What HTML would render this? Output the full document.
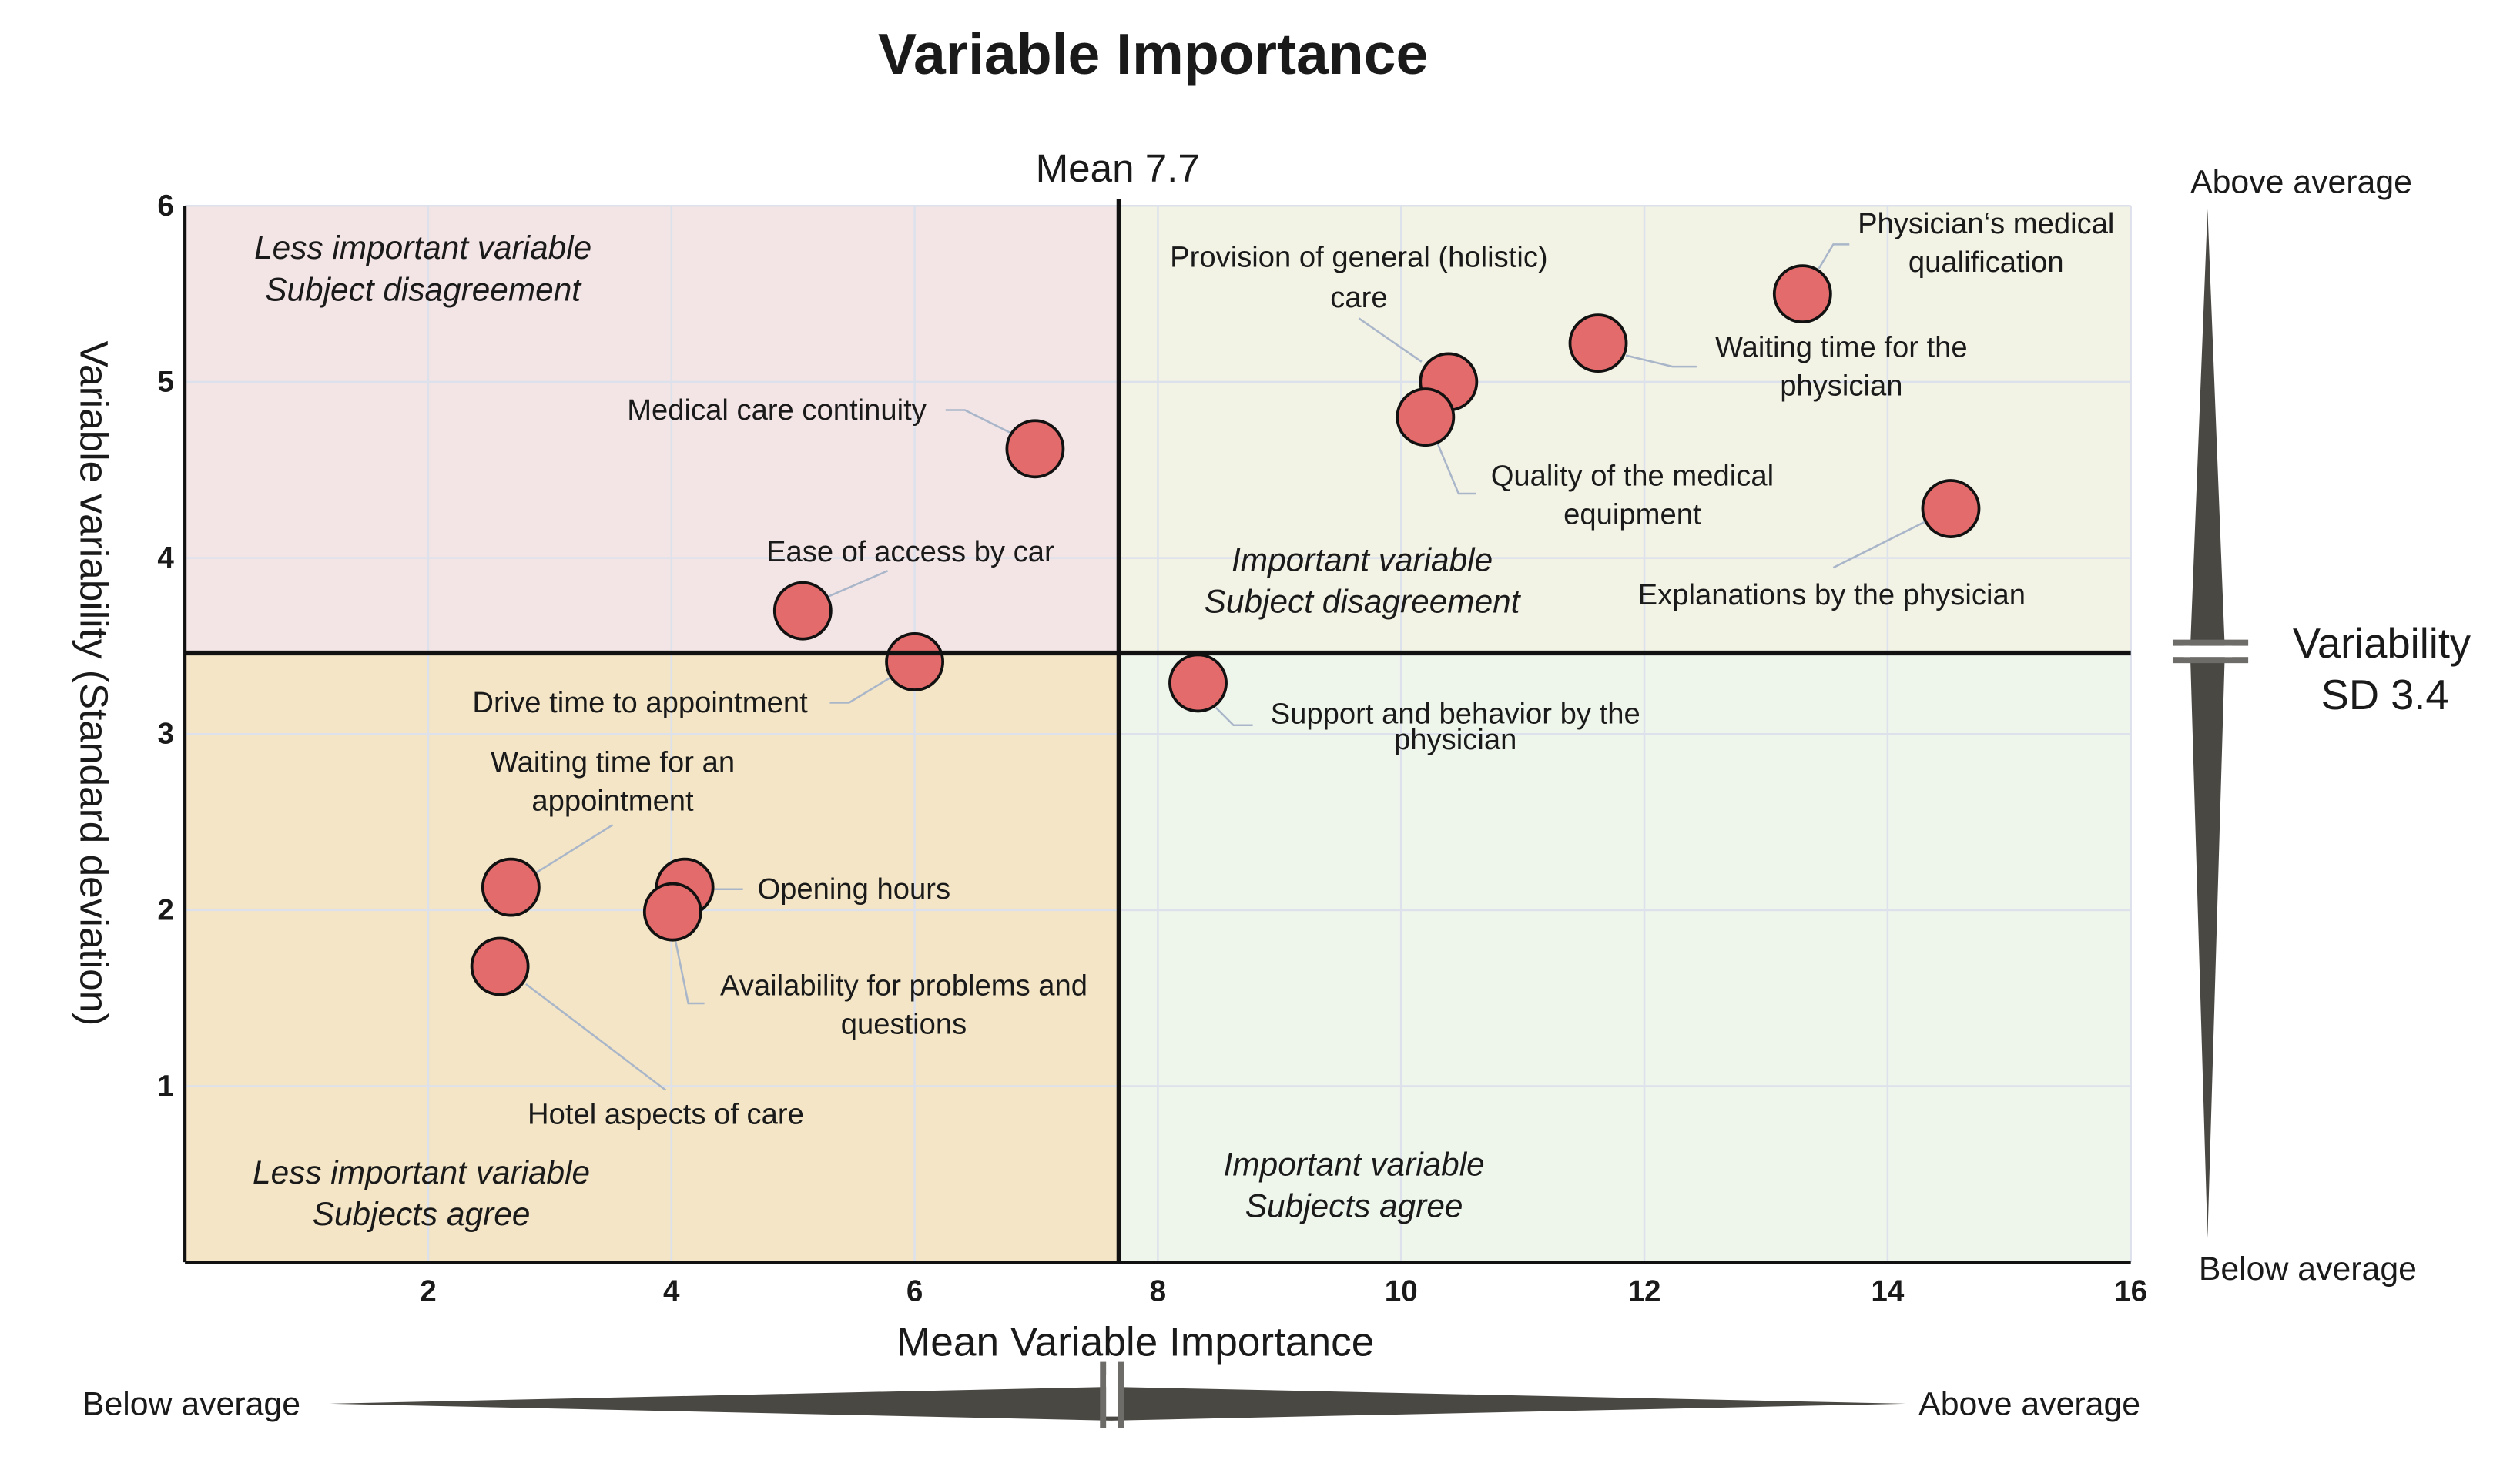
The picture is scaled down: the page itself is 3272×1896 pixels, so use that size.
<!DOCTYPE html>
<html><head><meta charset="utf-8"><style>
html,body{margin:0;padding:0;background:#fff}
svg{display:block}
text{font-family:"Liberation Sans",sans-serif;fill:#1a1a1a}
.lbl{font-size:18.3px;text-anchor:middle}
.q{font-size:20.3px;font-style:italic;text-anchor:middle}
.tk{font-size:18.5px;font-weight:bold;text-anchor:middle}
.ld{stroke:#a9b6c9;stroke-width:1.2;fill:none}
</style></head><body>
<svg id="chart" width="3272" height="1896" viewBox="0 0 1567 908" xmlns="http://www.w3.org/2000/svg">
<g id="bg"></g>
<g id="grid"></g>
<text x="717" y="46" style="font-size:36px;font-weight:bold;text-anchor:middle">Variable Importance</text>
<text x="695" y="113" style="font-size:24.5px;text-anchor:middle">Mean 7.7</text>
<g id="quadtext">
<text class="q" x="263" y="161">Less important variable</text>
<text class="q" x="263" y="187">Subject disagreement</text>
<text class="q" x="847" y="355">Important variable</text>
<text class="q" x="847" y="381">Subject disagreement</text>
<text class="q" x="262" y="736">Less important variable</text>
<text class="q" x="262" y="762">Subjects agree</text>
<text class="q" x="842" y="731">Important variable</text>
<text class="q" x="842" y="757">Subjects agree</text>
</g>
<g id="leaders">
<polyline class="ld" points="588,255 600,255 630,270"/>
<polyline class="ld" points="552,355 515,371"/>
<polyline class="ld" points="516,437 528,437 556,420"/>
<polyline class="ld" points="381,513 333,543"/>
<polyline class="ld" points="443,553 462,553"/>
<polyline class="ld" points="420,585 428,624 438,624"/>
<polyline class="ld" points="327,612 414,678"/>
<polyline class="ld" points="756,440 767,451 779,451"/>
<polyline class="ld" points="845,198 884,225"/>
<polyline class="ld" points="894,276 907,307 918,307"/>
<polyline class="ld" points="1011,221 1040,228 1055,228"/>
<polyline class="ld" points="1131,167 1140,152 1150,152"/>
<polyline class="ld" points="1140,353 1200,323"/>
</g>
<g id="points"></g>
<g id="labels">
<text class="lbl" x="483" y="261">Medical care continuity</text>
<text class="lbl" x="566" y="349">Ease of access by car</text>
<text class="lbl" x="398" y="443">Drive time to appointment</text>
<text class="lbl" x="381" y="480">Waiting time for an</text>
<text class="lbl" x="381" y="504">appointment</text>
<text class="lbl" x="531" y="559">Opening hours</text>
<text class="lbl" x="562" y="619">Availability for problems and</text>
<text class="lbl" x="562" y="643">questions</text>
<text class="lbl" x="414" y="699">Hotel aspects of care</text>
<text class="lbl" x="905" y="450">Support and behavior by the</text>
<text class="lbl" x="905" y="466">physician</text>
<text class="lbl" x="845" y="166">Provision of general (holistic)</text>
<text class="lbl" x="845" y="191">care</text>
<text class="lbl" x="1015" y="302">Quality of the medical</text>
<text class="lbl" x="1015" y="326">equipment</text>
<text class="lbl" x="1145" y="222">Waiting time for the</text>
<text class="lbl" x="1145" y="246">physician</text>
<text class="lbl" x="1235" y="145">Physician‘s medical</text>
<text class="lbl" x="1235" y="169">qualification</text>
<text class="lbl" x="1139" y="376">Explanations by the physician</text>
</g>
<g id="axes"></g>
<text x="706" y="843" style="font-size:25.5px;text-anchor:middle">Mean Variable Importance</text>
<text transform="translate(50,425) rotate(90)" style="font-size:24.6px;text-anchor:middle">Variable variability (Standard deviation)</text>
<g>
<polygon points="1372.7,130 1383.5,405 1372.7,770 1361.9,405" fill="#4a4843"/>
<rect x="1351" y="397.8" width="47" height="3.8" fill="#6e6c68"/>
<rect x="1351" y="408.6" width="47" height="3.8" fill="#6e6c68"/>
<rect x="1358" y="401.6" width="30" height="7" fill="#fff"/>
</g>
<text x="1431" y="120" style="font-size:20.5px;text-anchor:middle">Above average</text>
<text x="1435" y="796" style="font-size:20.5px;text-anchor:middle">Below average</text>
<text x="1481" y="409" style="font-size:26px;text-anchor:middle">Variability</text>
<text x="1483" y="441" style="font-size:26px;text-anchor:middle">SD 3.4</text>
<g>
<polygon points="205,873 691,862.5 1185,873 691,883.5" fill="#4a4843"/>
<rect x="684" y="847" width="3.8" height="41" fill="#6e6c68"/>
<rect x="695" y="847" width="3.8" height="41" fill="#6e6c68"/>
<rect x="687.8" y="855" width="7.2" height="26" fill="#fff"/>
</g>
<text x="119" y="880" style="font-size:20.5px;text-anchor:middle">Below average</text>
<text x="1262" y="880" style="font-size:20.5px;text-anchor:middle">Above average</text>
</svg>
<script>
const names = ["Medical care continuity","Ease of access by car","Drive time to appointment","Waiting time for an appointment","Opening hours","Availability for problems and questions","Hotel aspects of care","Support and behavior by the physician","Provision of general (holistic) care","Quality of the medical equipment","Waiting time for the physician","Physician's medical qualification","Explanations by the physician"];
const meanImportance = [6.99,5.08,6.0,2.68,4.11,4.01,2.59,8.33,10.39,10.2,11.62,13.3,14.52];
const sdVariability = [4.62,3.70,3.41,2.13,2.13,1.99,1.68,3.29,5.00,4.80,5.22,5.50,4.28];
const xTicks = [2,4,6,8,10,12,14,16];
const yTicks = [1,2,3,4,5,6];
const meanX = 7.68;
const meanY = 3.46;
const xDomain = [0,16];
const yDomain = [0,6];

const NS = "http://www.w3.org/2000/svg";
const L = 115, R = 1325, T = 128, B = 785;
function sx(v){ return L + (v - xDomain[0]) / (xDomain[1]-xDomain[0]) * (R - L); }
function sy(v){ return B - (v - yDomain[0]) / (yDomain[1]-yDomain[0]) * (B - T); }
function mk(tag, attrs, parent){ const e = document.createElementNS(NS, tag); for (const k in attrs) e.setAttribute(k, attrs[k]); parent.appendChild(e); return e; }

const bg = document.getElementById('bg');
const mx = sx(meanX), my = sy(meanY);
let r;
r = mk('rect', {x:L, y:T, width:mx-L, height:my-T, fill:'#f3e5e5'}, bg);


r = mk('rect', {x:mx, y:T, width:R-mx, height:my-T, fill:'#f2f2e5'}, bg);


r = mk('rect', {x:L, y:my, width:mx-L, height:B-my, fill:'#f3e5c5'}, bg);


r = mk('rect', {x:mx, y:my, width:R-mx, height:B-my, fill:'#eef5eb'}, bg);



const grid = document.getElementById('grid');
xTicks.forEach(t => {
  const g = mk('line', {x1:sx(t), x2:sx(t), y1:T, y2:B, stroke:'#dde1ec', 'stroke-width':1.2}, grid);
  
  
});
yTicks.forEach(t => {
  const g = mk('line', {x1:L, x2:R, y1:sy(t), y2:sy(t), stroke:'#dde1ec', 'stroke-width':1.2}, grid);
  
  
});

const axes = document.getElementById('axes');
let a = mk('line', {x1:L, x2:L, y1:T, y2:B, stroke:'#111', 'stroke-width':2}, axes);


a = mk('line', {x1:L, x2:R, y1:B, y2:B, stroke:'#111', 'stroke-width':2}, axes);


a = mk('line', {x1:mx, x2:mx, y1:T-4, y2:B, stroke:'#111', 'stroke-width':3}, axes);


a = mk('line', {x1:L, x2:R, y1:my, y2:my, stroke:'#111', 'stroke-width':3}, axes);


xTicks.forEach(t => {
  const tx = mk('text', {x:sx(t), y:B+24, class:'tk'}, axes);
  tx.textContent = t;
  
  
});
yTicks.forEach(t => {
  const tx = mk('text', {x:L-12, y:sy(t)+6, class:'tk'}, axes);
  tx.textContent = t;
  
  
});

const pts = document.getElementById('points');
meanImportance.forEach((v, i) => {
  const c = mk('circle', {cx:sx(v), cy:sy(sdVariability[i]), r:17.5, fill:'#e36b6b', stroke:'#111', 'stroke-width':1.8}, pts);
  
  
});
</script>
</body></html>
